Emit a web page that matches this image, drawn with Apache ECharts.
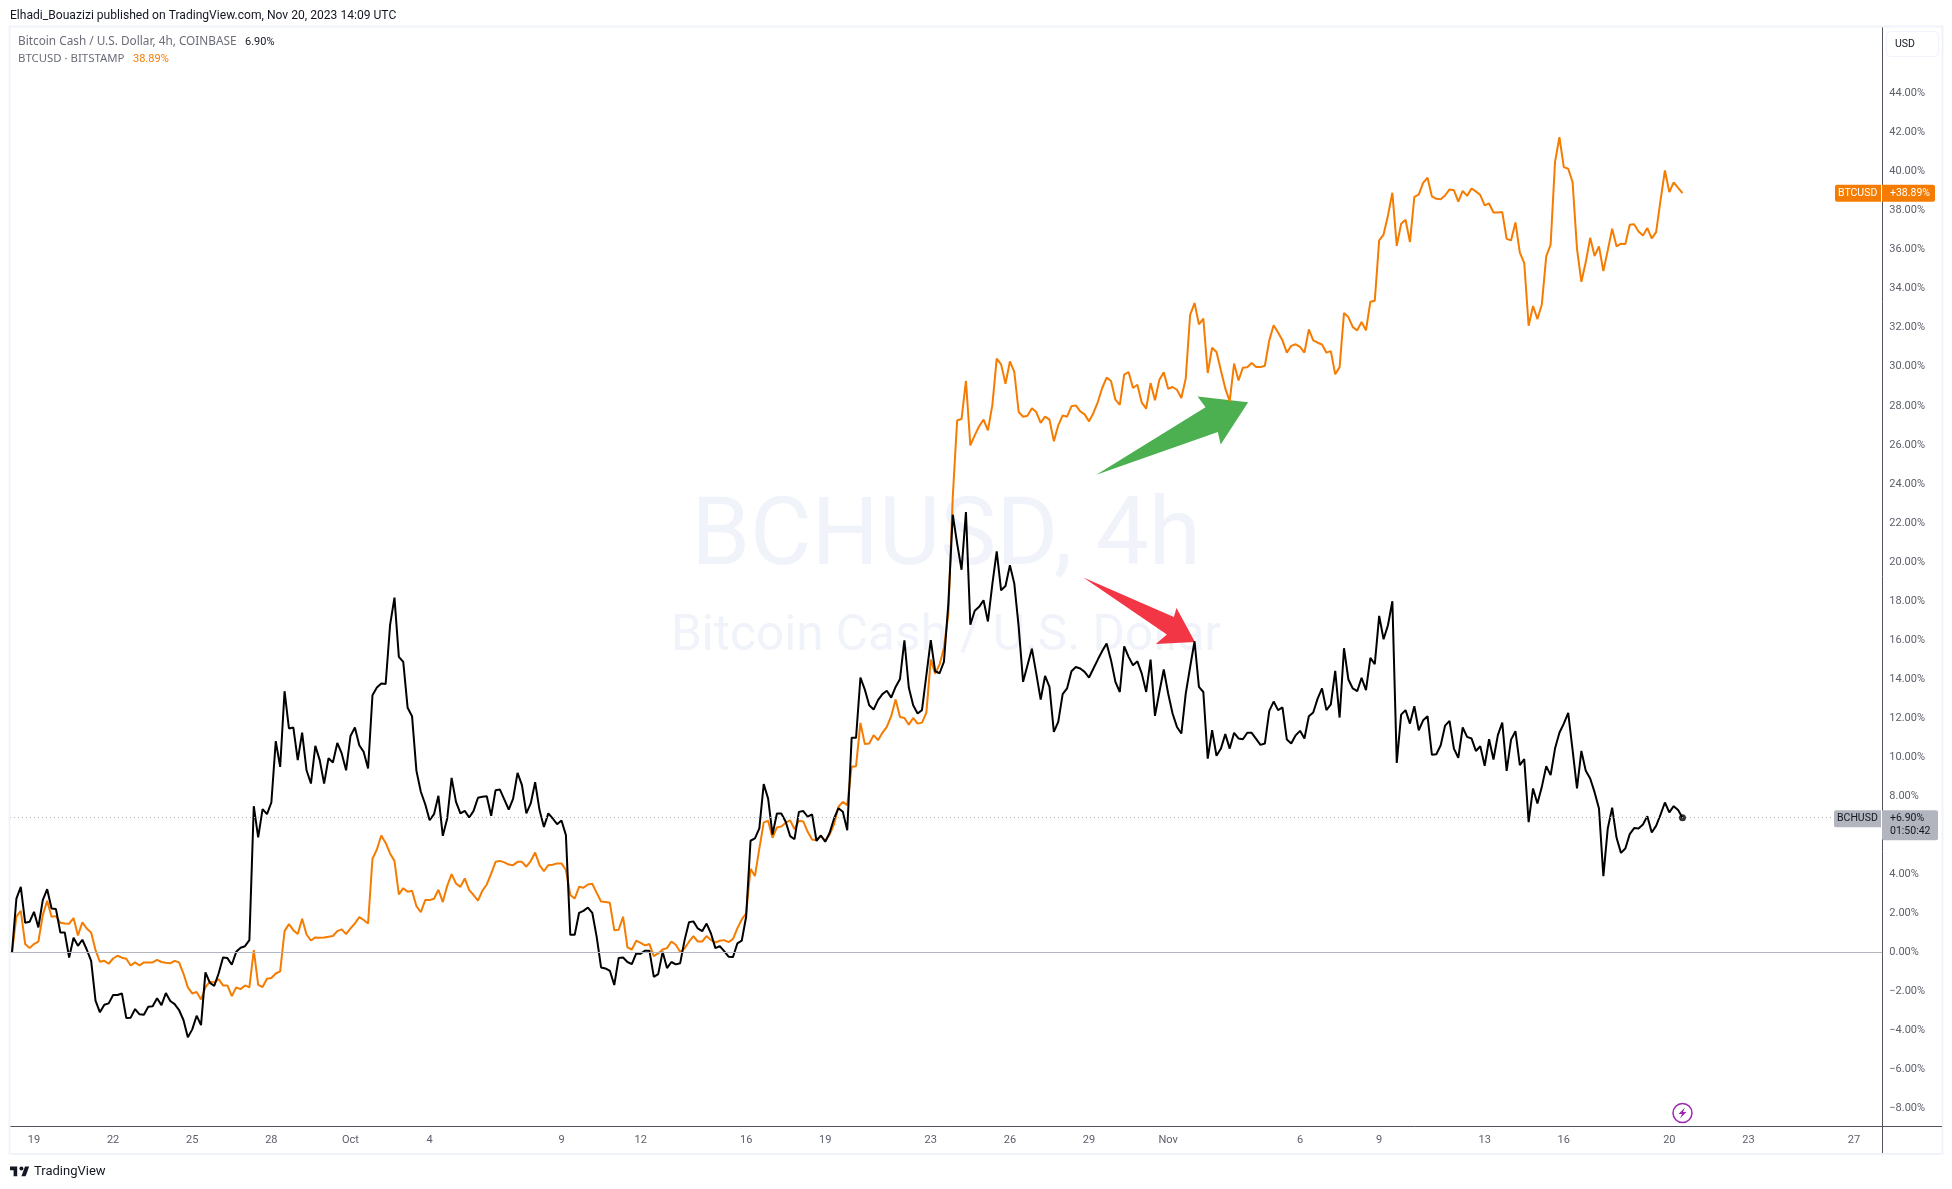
<!DOCTYPE html>
<html>
<head>
<meta charset="utf-8">
<title>BCHUSD vs BTCUSD, 4h</title>
<script src="https://cdn.jsdelivr.net/npm/echarts@6/dist/echarts.min.js"></script>
<style>html,body{margin:0;padding:0;background:#fff}#chart{width:1952px;height:1189px}</style>
</head>
<body>
<div id="chart"></div>
<script>
// percent change from the first bar, one value per 4h bar, starting 18 Sep 04:00
const bchusd = [
0,2.76,3.36,1.52,1.57,2.08,1.28,2.68,3.24,2.25,
2.22,1.02,1.02,-.26,.75,.34,.65,.15,-.43,-2.47,
-3.07,-2.68,-2.61,-2.18,-2.18,-2.1,-3.36,-3.34,-2.9,-3.17,
-3.19,-2.78,-2.76,-2.35,-2.7,-2.08,-2.49,-2.65,-2.95,-3.46,
-4.35,-3.94,-3.24,-3.72,-1.02,-1.55,-1.72,-1.08,-.26,-.29,
-.63,.03,.24,.32,.63,7.49,5.89,7.34,7.08,7.68,
10.82,9.5,13.38,11.47,11.52,9.85,11.26,9.33,8.65,10.58,
9.85,8.65,9.95,9.73,10.73,10.19,9.33,11.09,11.52,10.61,
10.27,9.42,13.17,13.57,13.77,13.75,16.76,18.17,15.14,14.88,
12.53,12.1,9.3,8.23,7.59,6.77,7.08,8.02,5.97,6.86,
8.94,7.71,7.12,7.25,6.91,7.25,7.92,7.97,8.0,7.0,
8.31,8.34,7.83,7.32,7.88,9.2,8.57,7.12,7.63,8.72,
7.29,6.43,7.12,6.86,6.57,6.76,6.01,.9,.9,2.03,
2.13,2.3,2.03,.8,-.77,-.82,-.94,-1.67,-.29,-.26,
-.49,-.6,-.05,-.07,.09,.09,-1.25,-1.11,.03,-.8,
-.49,-.61,-.55,.63,1.55,1.59,1.23,1.09,1.48,.97,
.22,.32,.07,-.22,-.24,.46,.6,1.83,5.72,5.84,
6.35,8.62,7.88,6.04,7.12,7.12,6.69,5.96,5.8,7.2,
7.24,6.95,7.07,5.72,5.99,5.67,6.13,6.86,7.39,7.2,
6.26,10.99,10.99,14.08,13.46,12.66,12.44,12.92,13.23,13.4,
13.05,13.6,14.01,15.99,13.57,12.66,12.24,12.41,14.2,15.99,
14.4,14.3,14.9,17.87,22.42,20.94,19.6,22.56,16.78,17.5,
17.7,18.04,16.95,18.85,20.54,18.55,18.77,19.83,18.89,16.67,
13.86,14.71,15.56,14.28,12.95,14.16,13.6,11.3,11.81,13.23,
13.52,14.4,14.62,14.54,14.37,14.08,14.54,15.0,15.44,15.82,
14.97,13.86,13.34,15.68,15.14,14.71,14.91,14.28,13.34,15.0,
12.12,13.34,14.49,13.26,12.24,11.55,11.21,13.26,14.62,15.94,
13.6,13.34,9.93,11.38,10.07,10.44,11.18,10.44,11.25,10.96,
10.92,11.25,11.25,10.94,10.63,10.7,12.37,12.85,12.41,12.55,
10.9,10.7,11.12,11.35,10.96,12.1,12.29,13.0,13.52,12.41,
12.71,14.42,12.03,15.58,13.98,13.52,13.38,14.06,13.43,15.09,
14.76,17.24,16.04,16.76,17.99,9.71,12.18,12.41,11.72,12.61,
11.38,11.89,12.1,10.12,10.15,10.61,11.62,11.86,10.44,9.97,
11.52,11.04,10.96,10.32,10.56,9.56,10.92,9.88,11.13,11.77,
9.3,10.9,11.33,9.59,9.9,6.67,8.4,7.63,8.48,9.54,
9.08,10.44,11.25,11.72,12.27,10.36,8.4,10.32,9.3,8.91,
8.21,7.37,3.91,6.35,7.41,5.87,5.1,5.32,6.06,6.37,
6.35,6.55,6.98,6.14,6.48,7.06,7.68,7.17,7.49,7.29,6.9
];
const btcusd = [
0,1.83,2.13,.43,.22,.43,.55,1.91,2.65,1.83,
1.86,1.52,1.48,1.47,1.76,.87,1.54,1.23,1.02,.12,
-.48,-.43,-.58,-.31,-.17,-.27,-.32,-.67,-.51,-.67,
-.51,-.51,-.51,-.38,-.49,-.53,-.56,-.43,-.51,-1.08,
-1.79,-2.1,-2.03,-2.41,-1.79,-1.5,-1.54,-1.37,-1.69,-1.69,
-2.24,-1.79,-1.88,-1.69,-1.79,.12,-1.66,-1.77,-1.35,-1.31,
-1.08,-.97,1.09,1.45,1.14,.94,1.72,.92,.61,.77,
.75,.77,.8,.84,1.09,1.18,.94,1.23,1.48,1.81,
1.66,1.48,4.8,5.27,5.99,5.61,5.07,4.69,2.97,3.29,
3.11,3.16,2.37,2.06,2.68,2.68,2.75,3.21,2.58,3.41,
4.01,3.53,3.36,3.79,3.19,2.94,2.65,3.16,3.48,4.04,
4.64,4.69,4.61,4.5,4.47,4.64,4.64,4.39,4.68,5.12,
4.47,4.16,4.47,4.49,4.56,4.56,4.22,2.94,2.76,3.36,
3.31,3.48,3.52,3.05,2.61,2.58,2.54,1.14,1.16,1.83,
.26,.15,.6,.49,.36,.43,-.19,-.05,.15,.22,
.56,.39,.02,.2,.55,.84,.56,.56,.84,.63,
.51,.6,.63,.53,.68,1.23,1.69,2.0,4.28,3.91,
5.32,6.66,6.74,5.87,6.4,6.45,6.64,6.77,6.31,6.74,
6.71,6.18,5.78,5.75,5.96,5.72,6.04,6.57,7.46,7.71,
7.54,9.51,9.54,11.76,10.67,10.7,11.13,10.87,11.25,11.55,
12.1,12.95,12.06,12.01,11.67,12.01,11.72,11.77,12.28,15.0,
14.28,14.75,15.6,17.35,23.33,27.25,27.32,29.27,25.97,26.48,
26.95,27.29,26.74,28.02,30.41,30.12,29.13,30.27,29.73,27.68,
27.44,27.49,27.87,27.68,27.12,27.44,27.29,26.18,27.0,27.51,
27.44,27.97,28.02,27.71,27.56,27.2,27.63,28.19,28.91,29.44,
29.27,28.31,28.05,29.59,29.73,28.91,29.08,28.16,27.85,29.16,
28.28,29.33,29.71,28.87,28.96,28.82,28.4,29.4,32.66,33.26,
32.17,32.46,29.68,30.97,30.75,29.81,28.88,28.24,30.16,29.3,
29.95,29.97,30.19,29.98,29.98,30.05,31.35,32.12,31.75,31.35,
30.72,31.07,31.15,31.02,30.72,31.91,31.35,31.23,31.14,30.72,
30.8,29.61,29.98,32.75,32.54,32.03,31.86,32.29,31.86,33.33,
33.38,36.47,36.77,37.75,38.91,36.19,37.32,37.53,36.38,38.7,
38.81,39.42,39.68,38.72,38.6,38.58,38.77,39.08,39.04,38.46,
39.01,38.75,39.13,38.98,38.79,38.26,38.36,37.9,37.9,37.92,
36.55,36.47,37.39,35.84,35.31,32.1,33.11,32.44,33.19,35.65,
36.25,40.48,41.76,40.22,40.14,39.45,36.04,34.35,35.36,36.6,
35.67,36.16,34.9,35.96,37.07,36.16,36.3,36.28,37.27,37.3,
36.93,36.72,37.1,36.57,36.89,38.52,40.05,38.94,39.44,39.16,38.89
];
const xTickLabels = ['19','22','25','28','Oct','4','9','12','16','19','23','26','29','Nov','6','9','13','16','20','23','27'];
const xTickBars   = [5,23,41,59,77,95,125,143,167,185,209,227,245,263,293,311,335,353,377,395,419];
const yTicks = [-8,-6,-4,-2,0,2,4,8,10,12,14,16,18,20,22,24,26,28,30,32,34,36,38,40,42,44];
// drawn arrows, vertices in [bar, percent]
const arrowGreen = [[246.66,24.47],[271.5,27.93],[269.7,28.47],[281.2,28.18],[274.95,26.02],[274.3,26.65]];
const arrowRed   = [[243.7,19.2],[264.3,17.18],[264.9,17.64],[269.1,15.9],[260.2,15.8],[262.7,16.29]];

const FONT = 'Roboto, sans-serif';
const BLACK = '#000000', ORANGE = '#f57c00', GREY = '#b2b5be', AXIS = '#50535e', TXT = '#5d606b', LEG = '#6a6d78', FRAME = '#f0f3fa';
const pairs = a => a.map((v, i) => [i, v]);
const lastBch = bchusd[bchusd.length - 1], lastBtc = btcusd[btcusd.length - 1];
const signedPct = v => (v < 0 ? '\u2212' : '') + Math.abs(v).toFixed(2) + '%';

function arrowSeries(points, color) {
  return {
    type: 'custom', coordinateSystem: 'cartesian2d', z: 1, silent: true, clip: false,
    data: points,
    renderItem: function (params, api) {
      if (params.dataIndex !== 0) return null;
      return { type: 'polygon', shape: { points: points.map(p => api.coord(p)) }, style: { fill: color } };
    }
  };
}
function txt(x, y, text, fill, size, family) {
  return { type: 'text', x, y, z: 60, silent: true,
    style: { text, fill, font: (size || 11) + 'px ' + (family || FONT), textVerticalAlign: 'middle' } };
}

const chart = echarts.init(document.getElementById('chart'), null, { renderer: 'canvas' });
chart.setOption({
  animation: false,
  backgroundColor: '#ffffff',
  textStyle: { fontFamily: FONT },
  grid: { left: 10, top: 27, width: 1872.3, height: 1099, containLabel: false },
  xAxis: {
    type: 'value', min: -0.455, max: 425.45, position: 'bottom',
    splitLine: { show: false },
    axisLine: { show: true, onZero: false, lineStyle: { color: AXIS, width: 1 } },
    axisTick: { show: false },
    axisLabel: {
      customValues: xTickBars, color: TXT, fontSize: 11, margin: 9, fontFamily: FONT,
      formatter: v => xTickLabels[xTickBars.indexOf(Math.round(v))] || ''
    }
  },
  yAxis: {
    type: 'value', min: -8.89, max: 47.4, position: 'right',
    splitLine: { show: false },
    axisLine: { show: true, onZero: false, lineStyle: { color: AXIS, width: 1 } },
    axisTick: { show: false },
    axisLabel: {
      customValues: yTicks, color: TXT, fontSize: 11, margin: 7, fontFamily: FONT, padding: [2, 0, 0, 0],
      formatter: v => signedPct(v)
    }
  },
  series: [
    arrowSeries(arrowGreen, '#4caf50'),
    arrowSeries(arrowRed, '#f23645'),
    {
      name: 'BTCUSD', type: 'line', z: 2, data: pairs(btcusd), showSymbol: false, silent: true,
      lineStyle: { color: ORANGE, width: 2 }, itemStyle: { color: ORANGE },
      markLine: {
        silent: true, symbol: 'none', label: { show: false }, animation: false,
        data: [{ yAxis: 0 }], lineStyle: { color: GREY, type: 'solid', width: 1 }
      }
    },
    {
      name: 'BCHUSD', type: 'line', z: 3, data: pairs(bchusd), showSymbol: false, silent: true,
      lineStyle: { color: BLACK, width: 2 }, itemStyle: { color: BLACK },
      markLine: {
        silent: true, symbol: 'none', label: { show: false }, animation: false,
        data: [{ yAxis: lastBch }], lineStyle: { color: GREY, type: [1, 3], width: 1 }
      }
    },
    {
      type: 'scatter', z: 4, silent: true, symbol: 'circle', symbolSize: 7,
      data: [[bchusd.length - 1, lastBch]], itemStyle: { color: BLACK }
    }
  ]
});

const yBtc = chart.convertToPixel({ yAxisIndex: 0 }, lastBtc);
const yBch = chart.convertToPixel({ yAxisIndex: 0 }, lastBch);
const xLast = chart.convertToPixel({ xAxisIndex: 0 }, bchusd.length - 1);

chart.setOption({
  graphic: { elements: [
    // watermark
    { type: 'text', x: 946, y: 540, z: 0, silent: true,
      style: { text: 'BCHUSD, 4h', fill: FRAME, font: '94.5px ' + FONT, textAlign: 'center', textVerticalAlign: 'middle' } },
    { type: 'text', x: 946, y: 638, z: 0, silent: true,
      style: { text: 'Bitcoin Cash / U.S. Dollar', fill: FRAME, font: '49.5px ' + FONT, textAlign: 'center', textVerticalAlign: 'middle' } },
    // outer frame
    { type: 'rect', z: 40, silent: true, shape: { x: 9.5, y: 26.5, width: 1933, height: 1127.5 },
      style: { fill: 'none', stroke: FRAME, lineWidth: 2 } },
    // axis extensions into the corners
    { type: 'line', z: 41, silent: true, shape: { x1: 1882.5, y1: 1126, x2: 1882.5, y2: 1153 }, style: { stroke: AXIS, lineWidth: 1 } },
    { type: 'line', z: 41, silent: true, shape: { x1: 1882, y1: 1126.5, x2: 1942, y2: 1126.5 }, style: { stroke: AXIS, lineWidth: 1 } },
    // header
    txt(10, 15.5, 'Elhadi_Bouazizi published on TradingView.com, Nov 20, 2023 14:09 UTC', '#131722', 12.1),
    txt(18, 42, 'Bitcoin Cash / U.S. Dollar, 4h, COINBASE', LEG, 11.8, '"Noto Sans", sans-serif'),
    txt(245, 42, '6.90%', '#131722', 11),
    txt(18, 59, 'BTCUSD \u00b7 BITSTAMP', LEG, 11.4, '"Noto Sans", sans-serif'),
    txt(133, 59, '38.89%', ORANGE, 11),
    // currency button
    { type: 'rect', z: 50, silent: true, shape: { x: 1886.5, y: 31.5, width: 52, height: 25, r: 4 },
      style: { fill: '#fff', stroke: FRAME, lineWidth: 1 } },
    txt(1895, 44, 'USD', '#131722', 10.5),
    // BTCUSD tags
    { type: 'rect', z: 50, silent: true, shape: { x: 1835, y: yBtc - 8.5, width: 46, height: 17, r: [2, 0, 0, 2] }, style: { fill: ORANGE } },
    { type: 'rect', z: 50, silent: true, shape: { x: 1882, y: yBtc - 8.5, width: 53, height: 17, r: [0, 2, 2, 0] }, style: { fill: ORANGE } },
    txt(1838, yBtc + 0.5, 'BTCUSD', '#ffffff', 10.5),
    txt(1890, yBtc + 0.5, '+38.89%', '#ffffff', 10.5),
    // BCHUSD tags
    { type: 'rect', z: 50, silent: true, shape: { x: 1834, y: yBch - 7.5, width: 47, height: 17, r: [2, 0, 0, 2] }, style: { fill: GREY } },
    { type: 'rect', z: 50, silent: true, shape: { x: 1882, y: yBch - 7.5, width: 56, height: 30, r: [0, 2, 2, 2] }, style: { fill: GREY } },
    txt(1837, yBch + 0.5, 'BCHUSD', '#131722', 10.5),
    txt(1890, yBch + 0.5, '+6.90%', '#131722', 10.5),
    txt(1890, yBch + 13.5, '01:50:42', '#131722', 10.5),
    // lightning badge
    { type: 'circle', z: 50, silent: true, shape: { cx: xLast, cy: 1113, r: 9.5 }, style: { fill: 'none', stroke: '#9c27b0', lineWidth: 1.5 } },
    { type: 'polygon', z: 50, silent: true,
      shape: { points: [[xLast + 2.5, 1107.5], [xLast - 4, 1114], [xLast - 0.5, 1114], [xLast - 2.5, 1118.5], [xLast + 4, 1112], [xLast + 0.5, 1112]] },
      style: { fill: '#9c27b0' } },
    // footer logo and name
    { type: 'polygon', z: 50, silent: true, shape: { points: [[17.2,1166.4],[10,1166.4],[10,1170.3],[13.6,1170.3],[13.6,1176.3],[17.2,1176.3]] }, style: { fill: '#131722' } },
    { type: 'polygon', z: 50, silent: true, shape: { points: [[25.6,1176.3],[21.4,1176.3],[25,1166.4],[29.2,1166.4]] }, style: { fill: '#131722' } },
    { type: 'circle', z: 50, silent: true, shape: { cx: 21.4, cy: 1168.4, r: 2 }, style: { fill: '#131722' } },
    txt(34, 1172, 'TradingView', '#131722', 13)
  ] }
});
</script>
</body>
</html>
